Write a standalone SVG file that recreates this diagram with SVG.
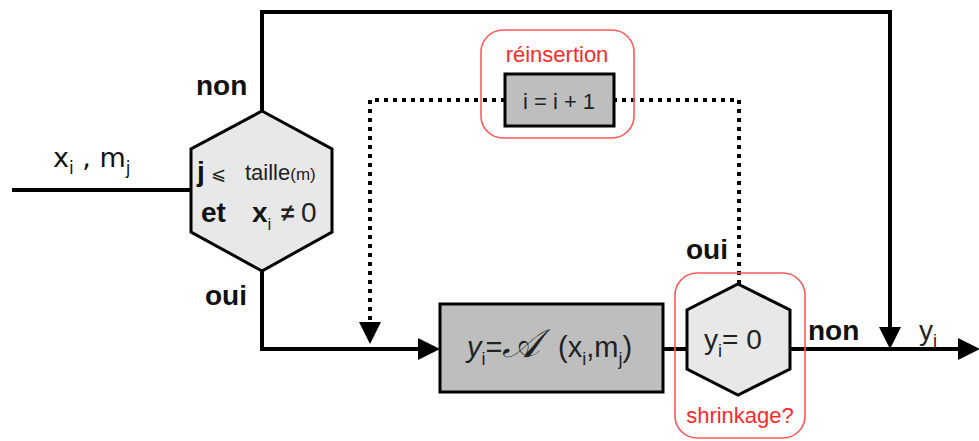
<svg xmlns="http://www.w3.org/2000/svg" width="979" height="441" viewBox="0 0 979 441">
<style>
.ln{fill:none;stroke:#000;stroke-width:4}
.dot{fill:none;stroke:#000;stroke-width:4;stroke-dasharray:4 5}
.hex{fill:#e8e8e8;stroke:#000;stroke-width:3}
.box{fill:#bebebe;stroke:#000;stroke-width:3}
.grp{fill:none;stroke:#ff5a5a;stroke-width:1.6}
.lbl{font-family:"Liberation Sans",Arial,sans-serif;font-size:28px;font-weight:bold;fill:#111}
.hv{font-family:"Liberation Sans",Arial,sans-serif;fill:#222}
.red{font-family:"Liberation Sans",Arial,sans-serif;font-size:22px;fill:#ff2a2a;text-anchor:middle}
</style>
<defs>
<marker id="ah" markerUnits="userSpaceOnUse" markerWidth="24" markerHeight="24" refX="0" refY="11" orient="auto">
<path d="M0,0 L22,11 L0,22 z" fill="#000"/>
</marker>
</defs>
<g id="connectors">
<path class="ln" d="M12,190 H191"/>
<path class="ln" d="M262,111 V12 H890 V327" marker-end="url(#ah)"/>
<path class="ln" d="M262,271 V349 H418" marker-end="url(#ah)"/>
<path class="ln" d="M663,349 H687"/>
<path class="ln" d="M790,349 H958" marker-end="url(#ah)"/>
<path class="dot" d="M739,284 V100 H614"/>
<path class="dot" d="M505,100 H370 V322" marker-end="url(#ah)"/>
<text x="53" y="167" font-family="DejaVu Sans,sans-serif" font-size="27" fill="#111">x<tspan font-size="17" dy="7">i</tspan><tspan dy="-7"> , m</tspan><tspan font-size="17" dy="7">j</tspan></text>
<text class="lbl" x="196" y="95">non</text>
<text class="lbl" x="205" y="305">oui</text>
<text class="lbl" x="686" y="259">oui</text>
<text class="lbl" x="808" y="340">non</text>
<text class="hv" x="919" y="340" font-size="28" fill="#111">y<tspan font-size="18" dy="7">i</tspan></text>
</g>
<g id="test1">
<polygon class="hex" points="262,111 332,149 332,232 262,271 191,232 191,149"/>
<text class="lbl" x="197" y="181">j</text>
<text class="hv" x="211" y="180" font-size="18" font-family="DejaVu Sans,sans-serif">⩽</text>
<text class="hv" x="245" y="180" font-size="22">taille<tspan font-size="17">(m)</tspan></text>
<text class="lbl" x="201" y="222" font-size="27">et</text>
<text class="lbl" x="252" y="222" font-size="27">x<tspan class="hv" font-weight="normal" font-size="17" dy="8">i</tspan></text>
<text class="hv" x="281" y="221" font-size="24" font-weight="bold" fill="#111">≠</text>
<text class="hv" x="301" y="222" font-size="28" fill="#111">0</text>
</g>
<g id="reinsertion">
<rect class="grp" x="481" y="30" width="153" height="108" rx="22"/>
<text class="red" x="557" y="62">réinsertion</text>
<rect class="box" x="505" y="74" width="109" height="52"/>
<text class="hv" x="559" y="109" font-size="22" text-anchor="middle">i = i + 1</text>
</g>
<g id="compute">
<rect class="box" x="440" y="304" width="223" height="88"/>
<text class="hv" x="467" y="357" font-size="29"><tspan font-style="italic">y</tspan><tspan font-size="18" dy="8">i</tspan><tspan dy="-8">=</tspan><tspan font-family="DejaVu Serif,serif" font-style="italic" font-size="40">𝒜</tspan><tspan x="558">(x</tspan><tspan font-size="18" dy="8">i</tspan><tspan dy="-8">,m</tspan><tspan font-size="18" dy="8">j</tspan><tspan dy="-8">)</tspan></text>
</g>
<g id="shrinkage">
<rect class="grp" x="675" y="273" width="130" height="165" rx="22"/>
<polygon class="hex" points="738,284 790,310 790,369 738,395 687,369 687,310"/>
<text class="hv" x="704" y="349" font-size="28">y<tspan font-size="18" dy="8">i</tspan><tspan dy="-8">= 0</tspan></text>
<text class="red" x="740" y="423">shrinkage?</text>
</g>
</svg>
